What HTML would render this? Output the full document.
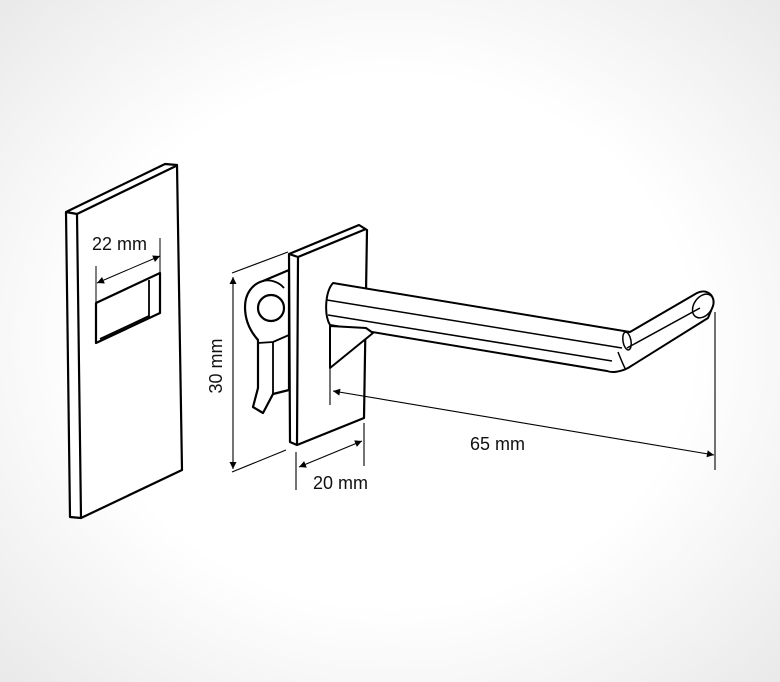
<!DOCTYPE html>
<html><head><meta charset="utf-8"><style>
html,body{margin:0;padding:0}
body{width:780px;height:682px;overflow:hidden;background:radial-gradient(ellipse at 50% 50%,#ffffff 55%,#f3f3f3 80%,#e9e9e9 100%)}
svg{position:absolute;left:0;top:0}
text{font-family:"Liberation Sans","DejaVu Sans",sans-serif;font-size:18px;fill:#111}
</style></head><body>
<svg width="780" height="682" viewBox="0 0 780 682" xmlns="http://www.w3.org/2000/svg">
<defs>
<marker id="a" viewBox="0 0 10 10" refX="10" refY="5" markerWidth="10" markerHeight="7" orient="auto-start-reverse" markerUnits="userSpaceOnUse"><path d="M0,0 L10,5 L0,10 z" fill="#000"/></marker>
</defs>
<g fill="#fff" stroke="#000" stroke-width="2.2" stroke-linejoin="round">
<!-- left panel -->
<path d="M66,212 L165,164 L177,165 L182,470 L81,518 L70,517 Z"/>
<path d="M66,212 L77,214 L176,166 M77,214 L81,518" fill="none"/>
<!-- slot -->
<path d="M96,303 L160,273 L160,313 L96,343 Z"/>
<path d="M149,280 L149,318 M100,339 L149,316" fill="none" stroke-width="1.8"/>
</g>
<g fill="none" stroke="#000" stroke-width="1">
<line x1="96" y1="266" x2="96" y2="303"/>
<line x1="160" y1="238" x2="160" y2="273"/>
<line x1="97" y1="283" x2="160" y2="256" marker-start="url(#a)" marker-end="url(#a)"/>
</g>
<text x="92" y="250">22 mm</text>

<!-- keyhole clip behind plate -->
<g fill="#fff" stroke="#000" stroke-width="2.2" stroke-linejoin="round">
<path d="M263,281 L289,270 L289,390 L273,394 L263,413 L253,407 L258,388 L258,340 C250,331 245,320 245,307 C245,294 252,284 263,281 Z"/>
<circle cx="271" cy="308" r="13"/>
<path d="M273,342 L273,394 M273,342 L289,335 M258,343 L273,342" fill="none" stroke-width="1.8"/>
<path d="M263,281 C270,279 279,282 284,288" fill="none" stroke-width="1.8"/>
</g>
<!-- back plate -->
<g fill="#fff" stroke="#000" stroke-width="2.2" stroke-linejoin="round">
<path d="M289,254 L359,225 L367,230 L364,418 L297,445 L290,442 Z"/>
<path d="M289,254 L298,257 L366,229 M298,257 L297,445" fill="none"/>
</g>
<!-- rod -->
<g fill="#fff" stroke="#000" stroke-width="2" stroke-linejoin="round">
<path d="M333,283 L630,332 L697,293 C707,288 716,296 713,306 L708,318 L628,368 C620,372 612,373 607,371 L330,325 C324,315 325,292 333,283 Z"/>
<path d="M327,300 L622,348 M328,315 L612,361 M627,348 L700,308" fill="none" stroke-width="1.5"/>
<path d="M618,352 C622,362 624,367 626,370" fill="none" stroke-width="1.5"/>
<ellipse cx="703" cy="306" rx="9" ry="13" transform="rotate(35 703 306)" fill="none" stroke-width="1.5"/>
<ellipse cx="627" cy="341" rx="4" ry="9" transform="rotate(-10 627 341)" fill="none" stroke-width="1.5"/>
<!-- bracket triangle -->
<path d="M330,326 L330,368 L373,333 L366,328 Z" stroke-width="2"/>
</g>
<!-- dimension lines -->
<g fill="none" stroke="#000" stroke-width="1.1">
<line x1="232" y1="273" x2="288" y2="252"/>
<line x1="232" y1="472" x2="286" y2="450"/>
<line x1="233" y1="277" x2="233" y2="469" marker-start="url(#a)" marker-end="url(#a)"/>
<line x1="296" y1="452" x2="296" y2="490"/>
<line x1="364" y1="423" x2="364" y2="466"/>
<line x1="299" y1="467" x2="362" y2="441" marker-start="url(#a)" marker-end="url(#a)"/>
<line x1="330" y1="368" x2="330" y2="405"/>
<line x1="715" y1="312" x2="715" y2="470"/>
<line x1="333" y1="391" x2="714" y2="455" marker-start="url(#a)" marker-end="url(#a)"/>
</g>
<text x="313" y="489">20 mm</text>
<text x="470" y="450">65 mm</text>
<text transform="translate(222,366) rotate(-90)" text-anchor="middle">30 mm</text>
</svg>
</body></html>
